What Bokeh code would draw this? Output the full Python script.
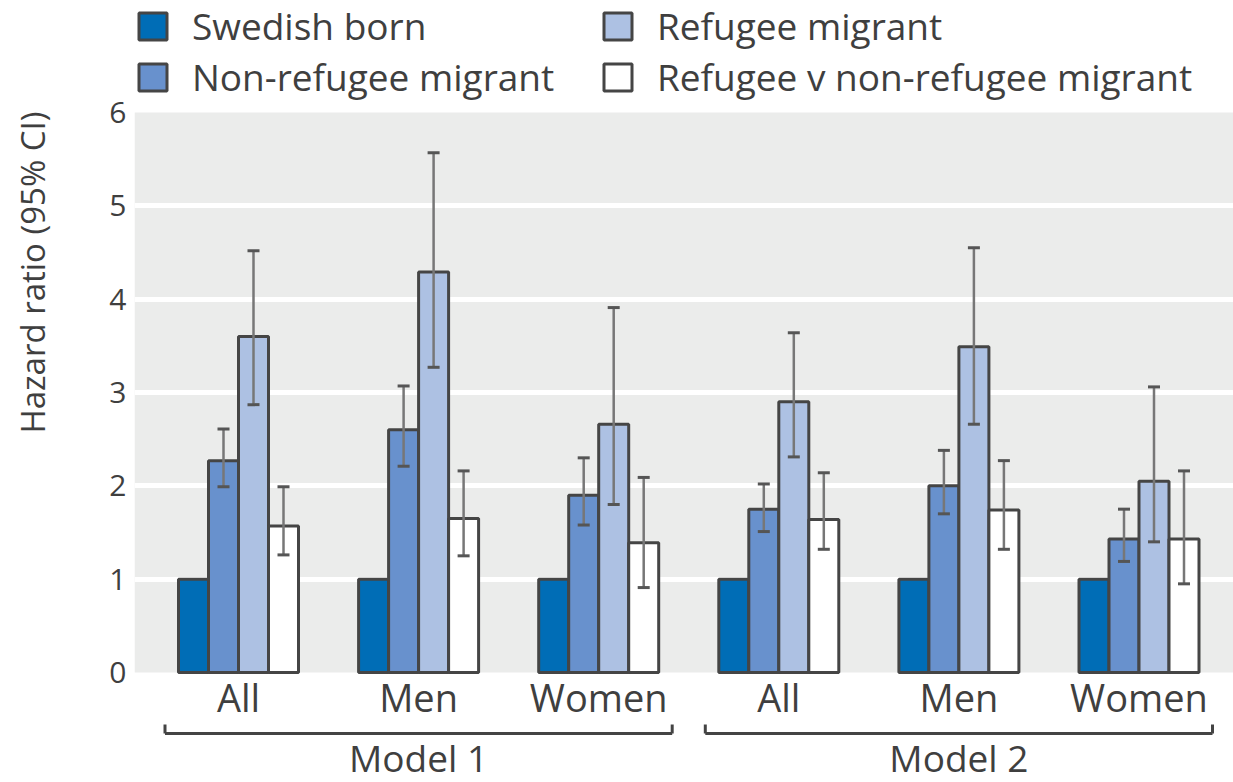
import math
from bokeh.plotting import figure
from bokeh.layouts import row
from bokeh.models import (Range1d, FixedTicker, Legend, LegendItem, BoxAnnotation)
from bokeh.core.properties import value
from bokeh.embed import file_html
from bokeh.resources import INLINE

# ---------------- data ----------------
groups = ["All", "Men", "Women", "All", "Men", "Women"]
models = ["Model 1", "Model 2"]
model_members = [[0, 1, 2], [3, 4, 5]]
series = ["Swedish born", "Non-refugee migrant", "Refugee migrant",
          "Refugee v non-refugee migrant"]

swedish = [1.0, 1.0, 1.0, 1.0, 1.0, 1.0]
nonref = [2.27, 2.60, 1.90, 1.75, 2.00, 1.43]
nonref_lo = [1.99, 2.21, 1.58, 1.51, 1.70, 1.19]
nonref_hi = [2.61, 3.07, 2.30, 2.02, 2.38, 1.75]
ref = [3.60, 4.29, 2.66, 2.90, 3.49, 2.05]
ref_lo = [2.87, 3.27, 1.80, 2.31, 2.66, 1.40]
ref_hi = [4.52, 5.57, 3.91, 3.64, 4.55, 3.06]
rvn = [1.57, 1.65, 1.39, 1.64, 1.74, 1.43]
rvn_lo = [1.26, 1.25, 0.91, 1.32, 1.32, 0.95]
rvn_hi = [1.99, 2.16, 2.09, 2.14, 2.27, 2.16]
y_ticks = [0, 1, 2, 3, 4, 5, 6]
y_title = "Hazard ratio (95% CI)"

values = [swedish, nonref, ref, rvn]
lows = [None, nonref_lo, ref_lo, rvn_lo]
highs = [None, nonref_hi, ref_hi, rvn_hi]
colors = ["#006db6", "#6891cd", "#adc1e3", "#ffffff"]

TEXT = "#3f3f3f"
FONT = "Open Sans"

# layout constants (pixels)
W, H = 1233, 782
TITLE_W = 64          # narrow strip holding the y-axis title
LEFT = 134            # frame left (page pixels)
Y0_PX = 672           # pixel row of value 0
PX_UNIT = 560 / 6     # pixels per hazard-ratio unit
X0_PX = 238           # centre of first group
GROUP_PX = 180.1      # distance between groups

def ypx(px_from_top):
    return (Y0_PX - px_from_top) / PX_UNIT

# ---------------- strip with the y-axis title ----------------
t = figure(width=TITLE_W, height=H, output_backend="svg", toolbar_location=None,
           x_range=Range1d(0, TITLE_W), y_range=Range1d(H, 0),
           x_axis_location=None, y_axis_location=None,
           min_border_left=0, min_border_right=0, min_border_top=0,
           min_border_bottom=0, outline_line_color=None,
           background_fill_color="white", border_fill_color="white")
t.xgrid.visible = False
t.ygrid.visible = False
t.text(x=[32], y=[272], text=[y_title], angle=math.pi / 2,
       text_align="center", text_baseline="middle",
       text_font=value(FONT), text_font_size=value("33px"), text_color=TEXT)

# ---------------- main figure ----------------
p = figure(width=W - TITLE_W, height=H, output_backend="svg", toolbar_location=None,
           x_range=Range1d((LEFT - X0_PX) / GROUP_PX, (W - X0_PX) / GROUP_PX),
           y_range=Range1d(ypx(H), ypx(0)),
           x_axis_location=None,
           min_border_left=LEFT - TITLE_W, min_border_right=0, min_border_top=0,
           min_border_bottom=0, background_fill_color="white",
           border_fill_color="white", outline_line_color=None)

# grey plotting area 0..6
p.add_layout(BoxAnnotation(bottom=0, top=6, fill_color="#ebeceb", fill_alpha=1,
                           line_color=None, level="image"))

# y axis
p.yaxis.ticker = FixedTicker(ticks=y_ticks)
p.yaxis.axis_line_color = None
p.yaxis.major_tick_line_color = None
p.yaxis.minor_tick_line_color = None
p.yaxis.major_tick_out = 0
p.yaxis.major_tick_in = 0
p.yaxis.major_label_standoff = 8
p.yaxis.major_label_text_font = FONT
p.yaxis.major_label_text_font_size = "30px"
p.yaxis.major_label_text_color = TEXT

# grid
p.xgrid.visible = False
p.ygrid.ticker = FixedTicker(ticks=y_ticks[1:-1])
p.ygrid.grid_line_color = "white"
p.ygrid.grid_line_width = 5

# ---------------- bars ----------------
bw = 30 / GROUP_PX
renderers = []
for j, vals in enumerate(values):
    xs = [i + (j - 1.5) * bw for i in range(len(groups))]
    r = p.vbar(x=xs, top=vals, bottom=0, width=bw, fill_color=colors[j],
               line_color="#454545", line_width=3)
    renderers.append(r)

# error bars
cap = 6 / GROUP_PX
for j in range(1, 4):
    xs = [i + (j - 1.5) * bw for i in range(len(groups))]
    lo, hi = lows[j], highs[j]
    p.segment(x0=xs, y0=lo, x1=xs, y1=hi, line_color="#777777", line_width=2.5)
    p.segment(x0=[x - cap for x in xs], y0=hi, x1=[x + cap for x in xs], y1=hi,
              line_color="#555555", line_width=3)
    p.segment(x0=[x - cap for x in xs], y0=lo, x1=[x + cap for x in xs], y1=lo,
              line_color="#555555", line_width=3)

# ---------------- category labels ----------------
p.text(x=list(range(len(groups))), y=[ypx(696)] * len(groups), text=groups,
       text_align="center", text_baseline="alphabetic",
       text_font=value(FONT), text_font_size=value("38px"), text_color=TEXT)

# ---------------- brackets and model labels ----------------
half = 73.5 / GROUP_PX
y_line = ypx(733)
y_tick = ypx(724)
bx0, by0, bx1, by1 = [], [], [], []
for members in model_members:
    a = members[0] - half
    b = members[-1] + half
    bx0 += [a, a, b]
    by0 += [y_tick, y_line, y_line]
    bx1 += [a, b, b]
    by1 += [y_line, y_line, y_tick]
p.segment(x0=bx0, y0=by0, x1=bx1, y1=by1, line_color="#444444", line_width=3)

p.text(x=[sum(m) / len(m) for m in model_members], y=[ypx(757)] * len(models),
       text=models, text_align="center", text_baseline="alphabetic",
       text_font=value(FONT), text_font_size=value("37px"), text_color=TEXT)

# ---------------- legends ----------------
def make_legend(idx, loc):
    leg = Legend(items=[LegendItem(label=series[k], renderers=[renderers[k]])
                        for k in idx],
                 location=loc, orientation="vertical",
                 glyph_width=35, glyph_height=34, label_standoff=22,
                 label_height=48, spacing=0, padding=0, margin=0,
                 label_text_font=FONT, label_text_font_size="37px",
                 label_text_color=TEXT, border_line_color=None,
                 background_fill_alpha=0)
    p.add_layout(leg)

make_legend([0, 1], (1, H - 102))
make_legend([2, 3], (466, H - 102))

layout = row(t, p, spacing=0)
open("out.html", "w").write(file_html(layout, INLINE))
